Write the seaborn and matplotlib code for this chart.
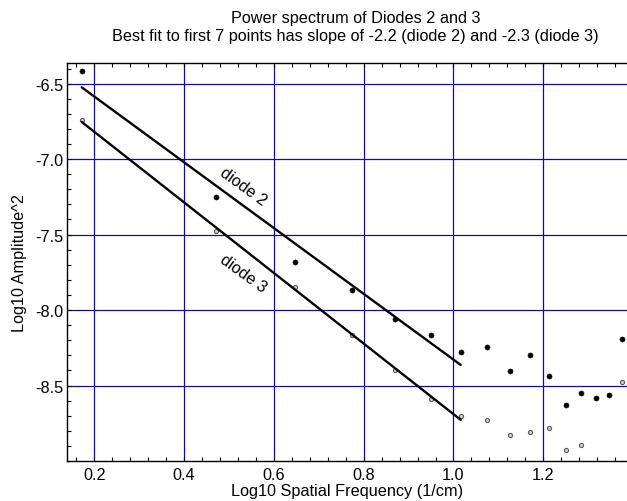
import numpy as np
import pandas as pd
import matplotlib
matplotlib.use("Agg")
import matplotlib.pyplot as plt
import seaborn as sns
from matplotlib.ticker import FixedLocator, MultipleLocator, FormatStrFormatter

# ---- data ----
log_freq = [0.172, 0.472, 0.648, 0.773, 0.870, 0.949, 1.016, 1.074,
            1.125, 1.171, 1.212, 1.250, 1.285, 1.317, 1.347, 1.375]
diode2 = [-6.416, -7.250, -7.683, -7.870, -8.061, -8.165, -8.279, -8.242,
          -8.403, -8.295, -8.439, -8.631, -8.551, -8.580, -8.560, -8.191]
diode3 = [-6.743, -7.479, -7.844, -8.167, -8.394, -8.589, -8.702, -8.726,
          -8.825, -8.805, -8.779, -8.929, -8.896, np.nan, np.nan, -8.474]
n_fit = 7
series_names = ["diode 2", "diode 3"]
title_text = ("Power spectrum of Diodes 2 and 3\n"
              "Best fit to first 7 points has slope of -2.2 (diode 2) and -2.3 (diode 3)")
x_label = "Log10 Spatial Frequency (1/cm)"
y_label = "Log10 Amplitude^2"
x_ticks = [0.2, 0.4, 0.6, 0.8, 1.0, 1.2]
y_ticks = [-6.5, -7.0, -7.5, -8.0, -8.5]

df = pd.DataFrame({"f": log_freq, "d2": diode2, "d3": diode3})

sns.set_style("white")
plt.rcParams["font.family"] = ["Liberation Sans", "DejaVu Sans"]
plt.rcParams["axes.unicode_minus"] = False
plt.rcParams["text.color"] = "black"
plt.rcParams["axes.labelcolor"] = "black"
plt.rcParams["xtick.color"] = "black"
plt.rcParams["ytick.color"] = "black"

FS = 11.7
W, H = 627, 502
fig = plt.figure(figsize=(W / 100, H / 100), dpi=100)
L, R, T, B = 67.3, 627.0, 63.5, 462.0
ax = fig.add_axes([L / W, 1 - B / H, (R - L) / W, (B - T) / H])

grid_col = "#10108a"
ax.set_axisbelow(True)
ax.grid(True, which="major", color=grid_col, lw=0.9)

# points
sns.scatterplot(data=df, x="f", y="d2", ax=ax, color="black", s=14,
                edgecolor="black", linewidth=0.3, zorder=3)
sns.scatterplot(data=df, x="f", y="d3", ax=ax, color="#cfcfcf", s=9,
                edgecolor="#5a5a5a", linewidth=0.8, zorder=3)

# best-fit lines over the first n_fit points
fx = np.array(log_freq[:n_fit])
offsets = {"d2": 0.125, "d3": -0.16}
for col, name in zip(["d2", "d3"], series_names):
    fy = np.array(df[col].values[:n_fit])
    slope, icpt = np.polyfit(fx, fy, 1)
    xx = [fx[0], fx[-1]]
    sns.lineplot(x=xx, y=[slope * v + icpt for v in xx], ax=ax,
                 color="black", lw=1.7, zorder=4)
    lx = 0.531
    ax.text(lx, slope * lx + icpt + offsets[col], name, rotation=-36,
            ha="center", va="center", rotation_mode="anchor", fontsize=FS,
            color="black")

ax.set_xlim(0.1399, 1.3864)
ax.set_ylim(-9.0, -6.36)
ax.xaxis.set_major_locator(FixedLocator(x_ticks))
ax.xaxis.set_minor_locator(MultipleLocator(0.04))
ax.yaxis.set_major_locator(FixedLocator(y_ticks))
ax.yaxis.set_minor_locator(MultipleLocator(0.1))
ax.xaxis.set_major_formatter(FormatStrFormatter("%.1f"))
ax.yaxis.set_major_formatter(FormatStrFormatter("%.1f"))

ax.tick_params(which="both", direction="in", top=True, right=False,
               bottom=True, left=True, length=2.6, width=0.8, colors="black",
               labelsize=FS)
ax.tick_params(axis="x", pad=4)
ax.tick_params(axis="y", pad=3)

for s in ["left", "top", "bottom"]:
    ax.spines[s].set_visible(True)
    ax.spines[s].set_color("black")
    ax.spines[s].set_linewidth(1.0)
ax.spines["right"].set_visible(False)

ax.set_xlabel(x_label, fontsize=FS, labelpad=1, color="black")
ax.set_ylabel(y_label, fontsize=FS, labelpad=6, color="black")

fig.text(355.7 / W, 1 - 28 / H, title_text, ha="center", va="center",
         fontsize=FS, linespacing=1.25, color="black")

fig.savefig("out.png", dpi=100)
